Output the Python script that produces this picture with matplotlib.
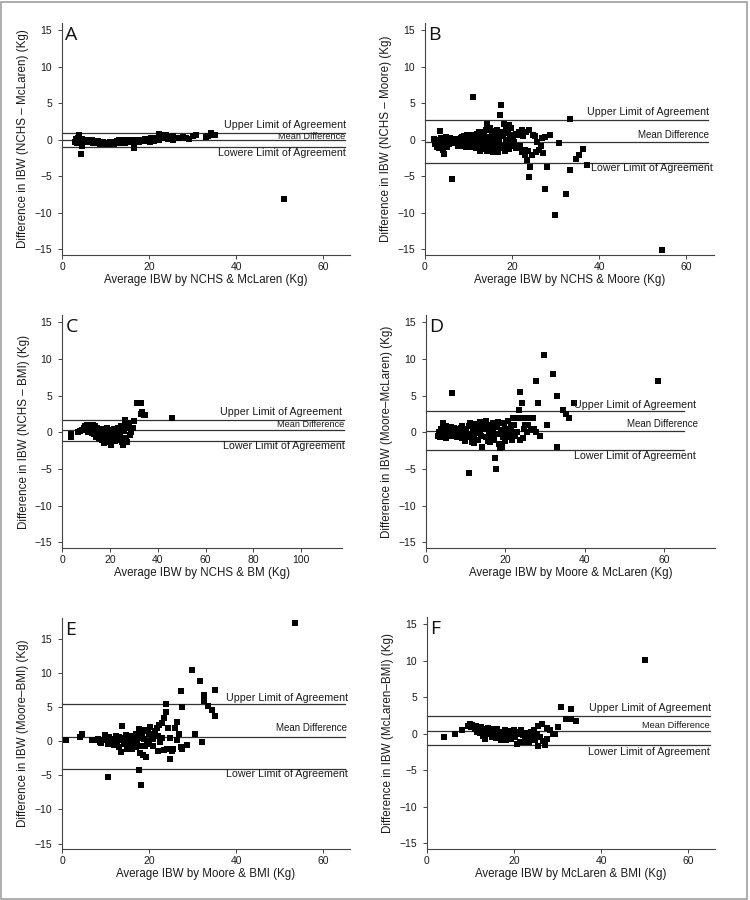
import matplotlib
matplotlib.use("Agg")
import matplotlib.pyplot as plt
from matplotlib.patches import Rectangle

# ---------------- data ----------------
A_x = [3.0, 3.2, 3.4, 3.6, 3.8, 4.0, 4.3, 4.6, 5.0, 5.4, 5.8, 6.2, 6.6, 7.0, 7.4, 7.8, 8.2, 8.6, 9.0, 9.4,
       9.8, 10.2, 10.6, 11.0, 11.4, 11.8, 12.2, 12.6, 13.0, 13.4, 13.8, 14.2, 14.6, 15.0, 15.4, 15.8, 16.2,
       16.6, 17.0, 17.4, 17.8, 18.2, 18.6, 19.0, 19.5, 20.0, 20.5, 21.0, 21.5, 22.0, 22.4, 22.8, 23.2, 23.6,
       24.0, 24.5, 25.0, 25.6, 26.2, 27.0, 27.8, 28.6, 29.2, 30.2, 30.8, 33.0, 33.6, 34.2, 34.6, 35.2,
       3.5, 4.8, 5.6, 6.4, 7.2, 8.0, 8.8, 9.6, 10.4, 11.2, 12.0, 12.8, 13.6, 14.4, 15.2, 16.0, 16.8, 17.6,
       18.4, 19.2, 20.2, 21.2, 22.2, 23.4, 24.4, 25.4,
       4.3, 4.6, 16.5, 51.0]
A_y = [-0.3, 0.1, -0.1, 0.3, 0.6, 0.2, 0.0, 0.1, 0.0, 0.0, -0.1, 0.0, -0.1, -0.1, -0.2, -0.2, -0.2, -0.3, -0.3, -0.35,
       -0.4, -0.4, -0.4, -0.35, -0.35, -0.3, -0.3, -0.2, -0.1, 0.0, -0.1, -0.1, -0.05, -0.05, 0.0, -0.1, -0.05,
       0.0, -0.1, 0.0, -0.2, -0.1, 0.0, 0.1, -0.1, 0.0, 0.2, 0.1, 0.3, 0.2, 0.8, 0.6, 0.7, 0.5,
       0.6, 0.4, 0.3, 0.5, 0.3, 0.2, 0.4, 0.3, 0.1, 0.5, 0.7, 0.4, 0.5, 0.9, 0.7, 0.6,
       -0.4, -0.2, -0.3, -0.3, -0.4, -0.45, -0.55, -0.6, -0.6, -0.6, -0.55, -0.45, -0.4, -0.4, -0.3, -0.35, -0.3, -0.3,
       -0.2, -0.2, -0.3, -0.2, 0.0, 0.2, 0.1, -0.1,
       -1.9, -0.9, -1.1, -8.1]

B_x = [2.0, 2.2, 2.4, 2.6, 2.8, 3.0, 3.2, 3.4, 3.5, 3.7, 3.9, 4.1, 4.4, 4.6, 4.8, 5.0, 5.3, 5.5, 5.8, 6.0, 6.3, 6.5, 6.8,
       7.0, 7.3, 7.6, 8.0, 8.3, 8.6, 9.0, 9.3, 9.6, 9.9, 10.2, 10.5, 10.8, 11.0, 11.1, 11.4, 11.7, 12.0, 12.2, 12.5, 12.7,
       13.0, 13.2, 13.4, 13.6, 13.8, 14.0, 14.2, 14.3, 14.5, 14.7, 14.9, 15.1, 15.3, 15.5, 15.7, 15.9, 16.1, 16.3, 16.5,
       16.7, 16.9, 17.1, 17.3, 17.5, 17.6, 17.8, 18.0, 18.2, 18.4, 18.6, 18.8, 19.0, 19.2, 19.4, 19.6, 19.8, 20.0, 20.2,
       20.5, 20.8, 21.0, 21.3, 21.6, 21.9, 22.2, 22.3, 22.6, 22.9, 23.0, 23.3, 23.5, 23.7, 23.9, 24.0, 24.2, 24.5, 24.8,
       25.2, 25.4, 25.8, 26.2, 26.6, 26.9, 27.1, 27.5, 27.6, 28.1, 28.8, 29.8, 30.7, 32.3, 33.4, 33.3, 34.6, 35.4, 36.3,
       37.3, 54.5,
       7.5, 8.5, 9.5, 10.0, 11.5, 12.8, 13.5, 14.5, 15.0, 16.0, 17.0, 18.5, 19.5, 20.3, 15.6, 16.8, 13.1, 12.3,
       8.8, 10.6, 12.1, 14.1, 16.4, 18.1, 19.1, 11.9]
B_y = [0.1, -0.3, -0.6, 0.0, -1.0, -0.2, -1.2, 1.2, -0.5, 0.3, -0.9, -1.4, -2.0, -0.3, 0.4, -1.0, 0.2, -0.6, 0.3, -0.2, -5.4, -0.5, 0.1,
       -0.3, 0.0, -0.4, -0.1, 0.2, -0.5, 0.5, -0.2, 0.6, -0.7, 0.1, -1.0, 0.7, 5.8, -0.4, 0.3, -1.2, 0.8, -0.6, 0.2, -1.5,
       1.0, -0.2, -1.3, 0.6, -0.8, 1.3, 2.2, -1.6, 0.3, -0.5, 1.6, -1.2, 0.9, -0.1, -1.7, 1.2, 0.4, -0.8, 1.4,
       -1.4, 0.2, -0.4, 3.4, 4.7, 1.0, -1.1, 0.5, 2.1, -1.5, 1.8, -0.6, 0.9, 2.0, -1.3, 0.3, 1.6, -0.9, 0.7,
       -0.3, 0.8, -1.2, 0.6, 1.0, -0.8, 1.4, -1.7, 0.5, -2.1, -1.4, 1.1, -2.8, -1.6, 1.3, -5.1, -3.7, -2.1, 0.7,
       0.5, -1.7, -0.3, -1.4, -0.8, 0.3, -1.8, -6.8, 0.4, -3.8, 0.6, -10.3, -0.5, -7.5, 2.9, -4.2, -2.6, -2.1, -1.3,
       -3.4, -15.1,
       -0.8, 0.4, -1.0, 0.3, -0.2, 0.5, 0.1, -1.0, 0.4, -0.3, 0.7, -0.1, -0.5, 0.2, 0.8, -1.7, -0.9, 1.0,
       -0.9, -0.6, -0.1, -0.3, 0.0, -0.9, -0.4, 0.4]

C_x = [3.6, 3.8, 6.5, 7.5, 8.3, 9.0, 9.5, 10.0, 10.4, 10.8, 11.2, 11.6, 12.0, 12.5, 12.8, 13.2, 13.5, 13.8, 14.2,
       14.5, 14.8, 15.2, 15.5, 15.8, 16.2, 16.5, 16.8, 17.1, 17.4, 17.7, 18.0, 18.3, 18.6, 19.0, 19.3, 19.6, 20.0,
       20.5, 20.8, 21.2, 21.6, 22.0, 22.4, 22.8, 23.2, 23.6, 24.0, 24.4, 24.8, 25.2, 25.5, 25.8, 26.2, 26.5, 26.8,
       27.2, 27.5, 28.0, 28.5, 29.0, 29.6, 30.0, 31.2, 33.2, 33.0, 33.6, 34.2, 34.8, 45.8,
       11.0, 13.0, 15.0, 17.0, 19.0, 21.0, 23.0, 16.0, 18.0, 14.0, 12.2, 20.2, 22.2, 24.2]
C_y = [-0.3, -0.6, 0.1, 0.2, 0.3, 0.6, 0.9, 0.5, 1.0, 0.3, 0.8, 0.1, 0.6, -0.1, 1.0, 0.4, -0.3, 0.8, 0.1,
       -0.5, 0.6, -0.2, -0.8, 0.3, -0.5, 0.5, -1.0, -0.2, -1.5, 0.4, -0.7, 0.1, -1.2, 0.6, -0.4, 0.2, -0.9,
       -1.8, 0.3, -0.5, 0.5, -0.7, 0.2, -0.2, 0.6, -0.9, 0.4, -0.4, 0.8, -1.4, -1.8, 0.2, 1.0, 1.7, -0.8,
       -1.3, 0.6, 1.2, -0.4, 0.0, 0.6, 1.5, 4.0, 4.0, 2.5, 2.8, 2.4, 2.3, 2.0,
       0.0, -0.1, 0.0, 0.2, -0.1, -0.2, -0.5, -0.9, -1.3, -0.6, 0.3, 0.0, -1.2, -1.0]

D_x = [3.0, 3.2, 3.4, 3.6, 3.8, 4.0, 4.2, 4.4, 4.6, 4.8, 5.0, 5.3, 5.6, 5.9, 6.2, 6.5, 6.6, 6.9, 7.2, 7.5, 7.8,
       8.1, 8.4, 8.7, 9.0, 9.3, 9.6, 9.9, 10.2, 10.5, 10.8, 10.9, 11.2, 11.5, 11.8, 12.1, 12.4, 12.7, 13.0, 13.3,
       13.6, 13.9, 14.2, 14.4, 14.7, 15.0, 15.3, 15.6, 15.9, 16.2, 16.5, 16.8, 17.2, 17.4, 17.6, 17.8, 18.0, 18.2,
       18.4, 18.6, 18.8, 19.0, 19.2, 19.4, 19.7, 20.0, 20.3, 20.6, 21.0, 21.3, 21.6, 22.0, 22.2, 22.5, 22.8, 23.0,
       23.5, 23.7, 23.8, 24.0, 24.2, 24.4, 24.6, 25.0, 25.2, 25.5, 25.8, 26.2, 26.5, 27.0, 27.3, 27.6, 27.8, 28.2,
       28.8, 29.8, 30.6, 32.1, 33.0, 33.0, 34.5, 35.3, 36.0, 37.2, 58.5,
       5.0, 7.0, 9.0, 11.0, 12.0, 13.5, 14.0, 15.0, 16.0, 17.0, 19.0, 20.0, 21.5]
D_y = [-0.5, -0.2, 0.1, -0.7, 0.4, -0.3, 1.0, 1.3, -0.6, 0.2, 0.8, -0.4, 0.5, -0.2, 0.7, 5.3, -0.5, 0.3, -0.3, 0.1, -0.6,
       0.4, -0.2, 0.6, -0.8, 0.2, -0.4, -1.2, 0.5, -0.7, -5.6, 0.9, -0.3, -1.4, 0.3, -0.9, 1.1, -0.1, -1.0, 0.7,
       1.4, -0.5, -2.0, 0.4, 1.3, -0.7, 0.9, -1.2, 0.1, 1.0, -0.4, 0.5, -1.0, -3.5, -5.0, 0.7, -0.2, 1.4,
       -1.6, -2.1, 0.3, 1.3, -2.0, -0.6, 1.2, 0.5, -0.2, 1.5, -0.7, 0.1, -1.0, 2.0, 1.0, -0.5, 0.0, 2.0,
       3.0, -1.0, 5.5, 2.0, 4.0, -0.8, 0.5, 1.0, 2.0, 0.0, 1.0, 2.0, 0.3, 2.0, 0.5, 7.0, 0.1, 4.0,
       -0.5, 10.5, 1.0, 8.0, 5.0, -2.0, 3.0, 2.5, 2.0, 4.0, 7.0,
       -0.8, 0.6, 0.9, 1.2, -1.5, 0.2, 1.0, 1.5, -1.3, 1.2, 0.0, -1.2, 0.8]

E_x = [0.9, 4.1, 4.5, 6.8, 7.6, 8.3, 8.8, 9.3, 9.8, 10.2, 10.5, 10.6, 10.9, 11.3, 11.7, 12.0, 12.3, 12.7, 13.0,
       13.3, 13.6, 13.9, 14.0, 14.3, 14.6, 14.9, 15.2, 15.5, 15.8, 16.0, 16.3, 16.6, 16.9, 17.2, 17.5, 17.7, 17.8,
       17.9, 18.1, 18.2, 18.4, 18.6, 18.8, 19.0, 19.3, 19.5, 19.8, 20.0, 20.3, 20.6, 21.0, 21.4, 21.8, 22.0, 22.2,
       22.5, 22.9, 23.1, 23.4, 23.5, 23.9, 23.9, 24.1, 24.4, 24.8, 24.8, 25.2, 25.6, 25.9, 26.4, 26.5, 26.8, 27.3,
       27.3, 27.6, 27.5, 28.8, 29.9, 30.5, 31.7, 32.1, 32.6, 32.6, 33.5, 34.4, 35.2, 35.2, 53.5,
       9.0, 10.0, 11.0, 12.0, 13.0, 14.5, 15.0, 15.5, 16.5, 17.0, 18.0, 19.0, 20.0, 21.0, 22.0]
E_y = [0.2, 0.6, 1.0, 0.2, 0.15, 0.3, -0.2, 0.1, 0.9, 0.4, -0.4, -5.2, 0.6, -0.1, 0.3, -0.6, 0.8, 0.0, -0.9,
       0.5, -1.6, 2.2, 0.2, -0.5, 0.9, -1.1, 0.4, -0.3, 0.7, -1.1, 0.1, -0.6, 1.0, -0.2, 0.5, -4.2, 1.8,
       -1.8, -6.4, -0.7, 1.2, -2.0, 0.3, 1.6, -2.3, 0.0, 1.4, -0.4, 2.0, 0.6, -0.7, 1.4, 1.9, -1.5, 2.3,
       -0.2, 2.6, 0.4, 3.3, -1.3, 5.4, 4.3, -1.2, 1.9, 0.4, -2.7, -1.5, -1.1, 1.9, 0.15, 2.8, 1.1, -0.9,
       7.3, 5.0, -1.2, -0.6, 10.4, 1.1, 8.8, -0.1, 6.75, 5.8, 5.1, 4.55, 7.48, 3.67, 17.2,
       -0.3, 0.2, -0.5, 0.3, 0.6, -0.2, 0.3, -1.0, 0.8, -0.9, 0.9, -0.8, 1.0, 0.3, 0.8]

F_x = [3.8, 6.4, 8.0, 9.5, 9.8, 10.1, 10.4, 10.7, 11.0, 11.3, 11.6, 11.9, 12.2, 12.5, 12.8, 13.1, 13.4, 13.7,
       14.0, 14.3, 14.6, 14.9, 15.2, 15.5, 15.8, 16.1, 16.4, 16.7, 17.0, 17.3, 17.6, 17.9, 18.2, 18.5, 18.8, 19.1,
       19.4, 19.7, 20.0, 20.3, 20.7, 21.0, 21.4, 21.7, 22.0, 22.3, 22.6, 23.0, 23.4, 23.8, 24.1, 24.5, 24.8, 25.2,
       25.5, 25.6, 26.0, 26.4, 26.7, 27.2, 27.5, 27.6, 28.3, 29.0, 29.5, 30.0, 30.8, 32.0, 33.0, 33.2, 34.2, 50.0,
       11.5, 13.0, 14.5, 15.5, 16.5, 17.5, 18.5, 19.5, 21.0, 22.5, 24.0]
F_y = [-0.4, -0.1, 0.5, 1.1, 1.3, 0.9, 1.2, 1.0, 0.6, 1.1, 0.3, 0.8, 0.1, 0.9, -0.3, 0.6, -0.7, 0.4,
       0.8, -0.1, 0.5, -0.5, 0.7, 0.0, -0.6, 0.6, -0.2, 0.3, -0.8, 0.1, -0.4, 0.5, -0.9, 0.2, -0.3, 0.4,
       -0.7, 0.0, 0.5, -0.4, -1.4, 0.3, -1.2, 0.5, -0.2, -1.1, 0.1, -0.6, -1.2, 0.3, -0.3, 0.5, -0.9, 0.0,
       -1.7, 1.0, -0.5, 1.3, -1.0, -1.5, 0.8, -0.7, 0.5, 0.0, -0.1, 0.9, 3.7, 2.0, 2.0, 3.4, 1.7, 10.1,
       0.7, 0.2, 0.1, -0.3, 0.1, -0.1, -0.5, 0.3, -0.1, -0.5, -0.8]

letters = ["A", "B", "C", "D", "E", "F"]
x_labels = ["Average IBW by NCHS & McLaren (Kg)", "Average IBW by NCHS & Moore (Kg)",
            "Average IBW by NCHS & BM (Kg)", "Average IBW by Moore & McLaren (Kg)",
            "Average IBW by Moore & BMI (Kg)", "Average IBW by McLaren & BMI (Kg)"]
y_labels = ["Difference in IBW (NCHS \u2013 McLaren) (Kg)", "Difference in IBW (NCHS \u2013 Moore) (Kg)",
            "Difference in IBW (NCHS \u2013 BMI) (Kg)", "Difference in IBW (Moore\u2013McLaren) (Kg)",
            "Difference in IBW (Moore\u2013BMI) (Kg)", "Difference in IBW (McLaren\u2013BMI) (Kg)"]
upper_loa = [0.95, 2.65, 1.7, 2.85, 5.35, 2.4]
mean_diff = [-0.05, -0.25, 0.25, 0.2, 0.65, 0.35]
lower_loa = [-1.05, -3.15, -1.2, -2.45, -4.1, -1.55]
upper_text = ["Upper Limit of Agreement"] * 6
mean_text = ["Mean Difference"] * 6
lower_text = ["Lowere Limit of Agreement", "Lower Limit of Agreement", "Lower Limit of Agreement",
              "Lower Limit of Agreement", "Lower Limit of Agreement", "Lower Limit of Agreement"]
x_ticks = [[0, 20, 40, 60], [0, 20, 40, 60], [0, 20, 40, 60, 80, 100],
           [0, 20, 40, 60], [0, 20, 40, 60], [0, 20, 40, 60]]
y_ticks = [-15, -10, -5, 0, 5, 10, 15]

xs = [A_x, B_x, C_x, D_x, E_x, F_x]
ys = [A_y, B_y, C_y, D_y, E_y, F_y]

# ---------------- layout (pixel boxes: left, top, right, bottom) ----------------
W, H = 750, 900
boxes = [(62, 23, 350, 255), (425, 23, 714, 255),
         (62, 315, 342, 548), (426, 315, 715, 548),
         (62, 618, 350, 849), (427, 617, 715, 849)]
xlims = [(0, 66.2), (0, 66.4), (0, 117), (0, 72.8), (0, 66.2), (0, 66.2)]
ylims = [(-15.8, 16), (-15.8, 16), (-15.8, 16), (-15.8, 16), (-15.8, 18.0), (-15.8, 16)]
line_end = [65, 65, 118, 65, 65, 65]
up_pos = [(65.3, 2.05), (65.3, 3.78), (117, 2.82), (68, 3.73), (65.7, 6.35), (65.3, 3.47)]
mn_pos = [(65.0, 0.45), (65.3, 0.68), (118, 1.05), (68.4, 1.09), (65.5, 1.95), (64.9, 1.19)]
lo_pos = [(65.3, -1.82), (66.2, -3.88), (118, -1.9), (68, -3.18), (65.7, -4.84), (65, -2.47)]
mn_size = [6.6, 7.0, 6.6, 7.0, 7.0, 6.7]

plt.rcParams['font.family'] = ['Liberation Sans', 'DejaVu Sans']
fig = plt.figure(figsize=(W / 100, H / 100), dpi=100)
fig.patch.set_facecolor('white')

axis_col = '#444444'
line_col = '#333333'
txt_col = '#1a1a1a'

for i in range(6):
    l, t, r, b = boxes[i]
    ax = fig.add_axes([l / W, 1 - b / H, (r - l) / W, (b - t) / H])
    ax.set_xlim(*xlims[i])
    ax.set_ylim(*ylims[i])
    for s in ['top', 'right']:
        ax.spines[s].set_visible(False)
    for s in ['left', 'bottom']:
        ax.spines[s].set_color(axis_col)
        ax.spines[s].set_linewidth(0.8)
    ax.set_xticks(x_ticks[i])
    ax.set_yticks(y_ticks)
    ax.tick_params(axis='both', direction='out', length=3, width=0.7, color=axis_col,
                   labelsize=7.5, labelcolor=txt_col)
    ax.tick_params(axis='y', pad=4)
    ax.tick_params(axis='x', pad=2)

    ax.plot([0, line_end[i]], [upper_loa[i]] * 2, color=line_col, lw=0.9, clip_on=False, zorder=1)
    ax.plot([0, line_end[i]], [mean_diff[i]] * 2, color=line_col, lw=0.9, clip_on=False, zorder=1)
    ax.plot([0, line_end[i]], [lower_loa[i]] * 2, color=line_col, lw=0.9, clip_on=False, zorder=1)

    ax.plot(xs[i], ys[i], linestyle='none', marker='s', markersize=4.7, color='black',
            markeredgewidth=0, clip_on=False, zorder=3)

    ax.text(up_pos[i][0], up_pos[i][1], upper_text[i], ha='right', va='center',
            fontsize=7.7, color=txt_col, clip_on=False, zorder=4)
    ax.text(mn_pos[i][0], mn_pos[i][1], mean_text[i], ha='right', va='center',
            fontsize=mn_size[i], color=txt_col, clip_on=False, zorder=4)
    ax.text(lo_pos[i][0], lo_pos[i][1], lower_text[i], ha='right', va='center',
            fontsize=7.7, color=txt_col, clip_on=False, zorder=4)

    ax.text(0.012, 0.985, letters[i], transform=ax.transAxes, ha='left', va='top',
            fontsize=14, family=['Open Sans', 'DejaVu Sans'], color='#111111')

    ax.set_xlabel(x_labels[i], fontsize=8.3, color=txt_col)
    ax.set_ylabel(y_labels[i], fontsize=8.4, color=txt_col)
    ax.xaxis.set_label_coords(0.5, -0.108)
    ax.xaxis.label.set_va('center')
    ax.yaxis.set_label_coords(-0.135, 0.5)
    ax.yaxis.label.set_va('center')

# thin gray frame around the whole figure
fig.patches.append(Rectangle((1 / W, 1.5 / H), (W - 4) / W, (H - 3) / H, transform=fig.transFigure,
                             fill=False, edgecolor='#a0a0a0', linewidth=1.2))

fig.savefig('out.png', dpi=100)
